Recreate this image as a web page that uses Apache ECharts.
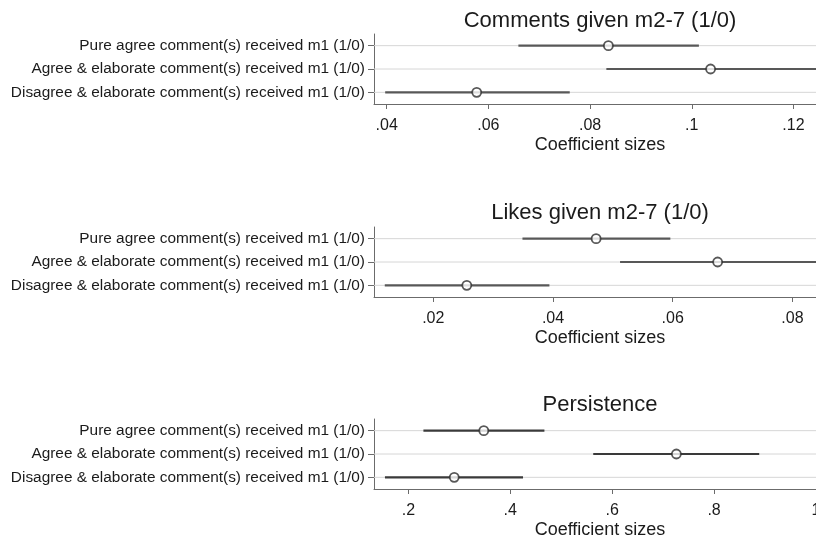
<!DOCTYPE html>
<html>
<head>
<meta charset="utf-8">
<script src="https://cdn.jsdelivr.net/npm/echarts@6/dist/echarts.min.js"></script>
<style>
  html, body { margin: 0; padding: 0; background: #fff; }
  #chart { width: 816px; height: 541px; }
</style>
</head>
<body>
<div id="chart"></div>
<script>
// Regressors, listed top to bottom in every panel
const rowLabels = [
  'Pure agree comment(s) received m1 (1/0)',
  'Agree & elaborate comment(s) received m1 (1/0)',
  'Disagree & elaborate comment(s) received m1 (1/0)'
];

// Panel titles
const panelTitles = ['Comments given m2-7 (1/0)', 'Likes given m2-7 (1/0)', 'Persistence'];

// Point estimates and 95% confidence bounds, one array per panel (rows in order above)
const commentsCoef  = [0.0836, 0.1037, 0.0577];
const commentsLower = [0.0659, 0.0832, 0.0397];
const commentsUpper = [0.1014, 0.1245, 0.0760];

const likesCoef  = [0.0472, 0.0675, 0.0256];
const likesLower = [0.0349, 0.0512, 0.0119];
const likesUpper = [0.0596, 0.0840, 0.0394];

const persistCoef  = [0.348, 0.726, 0.290];
const persistLower = [0.2295, 0.5628, 0.154];
const persistUpper = [0.467, 0.8886, 0.425];

// Axis ticks per panel
const commentsTicks = [0.04, 0.06, 0.08, 0.10, 0.12];
const likesTicks    = [0.02, 0.04, 0.06, 0.08];
const persistTicks  = [0.2, 0.4, 0.6, 0.8, 1.0];

// Axis extents per panel
const commentsRange = [0.0375, 0.1264];
const likesRange    = [0.0101, 0.0856];
const persistRange  = [0.1325, 1.0197];

const panels = [
  { title: panelTitles[0], coef: commentsCoef, lo: commentsLower, hi: commentsUpper, ticks: commentsTicks, range: commentsRange, top: 34,  titleY: 5,   lineColor: '#585858' },
  { title: panelTitles[1], coef: likesCoef,    lo: likesLower,    hi: likesUpper,    ticks: likesTicks,    range: likesRange,    top: 227, titleY: 197, lineColor: '#585858' },
  { title: panelTitles[2], coef: persistCoef,  lo: persistLower,  hi: persistUpper,  ticks: persistTicks,  range: persistRange,  top: 419, titleY: 389, lineColor: '#3a3a3a' }
];

const FONT = 'Liberation Sans, Arial, sans-serif';
const TEXT = '#1b1b1b';
const AXIS = '#6b6b6b';

function fmt(v) {
  return String(Math.round(v * 1000) / 1000).replace(/^0\./, '.');
}

const option = {
  animation: false,
  backgroundColor: '#ffffff',
  title: panels.map(p => ({
    text: p.title,
    left: 595,
    top: p.titleY,
    textAlign: 'center',
    textStyle: { fontFamily: FONT, fontSize: 22, fontWeight: 'normal', color: TEXT }
  })),
  grid: panels.map(p => ({ left: 374, right: -10, top: p.top, height: 70, outerBoundsMode: 'none', containLabel: false })),
  xAxis: panels.map((p, i) => ({
    type: 'value',
    gridIndex: i,
    min: p.range[0],
    max: p.range[1],
    name: 'Coefficient sizes',
    nameLocation: 'middle',
    nameGap: 32,
    nameTextStyle: { fontFamily: FONT, fontSize: 18, color: TEXT },
    axisLine: { show: true, lineStyle: { color: AXIS, width: 1 } },
    axisTick: { show: true, length: 5, customValues: p.ticks, lineStyle: { color: AXIS } },
    axisLabel: { customValues: p.ticks, formatter: fmt, margin: 14, fontFamily: FONT, fontSize: 16, color: TEXT },
    splitLine: { show: false }
  })),
  yAxis: panels.map((p, i) => ({
    type: 'category',
    gridIndex: i,
    data: rowLabels,
    inverse: true,
    boundaryGap: true,
    axisLine: { show: true, lineStyle: { color: AXIS, width: 1 } },
    axisTick: { show: true, alignWithLabel: true, length: 6, lineStyle: { color: AXIS } },
    axisLabel: { margin: 9, fontFamily: FONT, fontSize: 15.4, color: TEXT },
    splitLine: { show: false }
  })),
  series: []
};

panels.forEach((p, i) => {
  // Light horizontal guide at each row, across the whole plot width
  option.series.push({
    type: 'custom',
    xAxisIndex: i,
    yAxisIndex: i,
    clip: true,
    silent: true,
    z: 1,
    data: rowLabels.map((_, r) => [r]),
    renderItem: function (params, api) {
      const a = api.coord([p.range[0], api.value(0)]);
      const b = api.coord([p.range[1], api.value(0)]);
      return { type: 'line', shape: { x1: a[0], y1: a[1], x2: b[0], y2: b[1] }, style: { stroke: '#d6d6d6', lineWidth: 1 } };
    }
  });
  // Confidence interval bars
  option.series.push({
    type: 'custom',
    xAxisIndex: i,
    yAxisIndex: i,
    clip: true,
    silent: true,
    z: 2,
    data: rowLabels.map((_, r) => [r, p.lo[r], p.hi[r]]),
    renderItem: function (params, api) {
      const a = api.coord([api.value(1), api.value(0)]);
      const b = api.coord([api.value(2), api.value(0)]);
      return { type: 'line', shape: { x1: a[0], y1: a[1], x2: b[0], y2: b[1] }, style: { stroke: p.lineColor, lineWidth: 2.2 } };
    }
  });
  // Point estimates
  option.series.push({
    type: 'scatter',
    xAxisIndex: i,
    yAxisIndex: i,
    z: 3,
    symbol: 'circle',
    symbolSize: 9,
    itemStyle: { color: '#ffffff', borderColor: '#2e2e2e', borderWidth: 1.8 },
    data: rowLabels.map((lab, r) => [p.coef[r], r])
  });
});

const chart = echarts.init(document.getElementById('chart'), null, { renderer: 'canvas' });
chart.setOption(option);
</script>
</body>
</html>
